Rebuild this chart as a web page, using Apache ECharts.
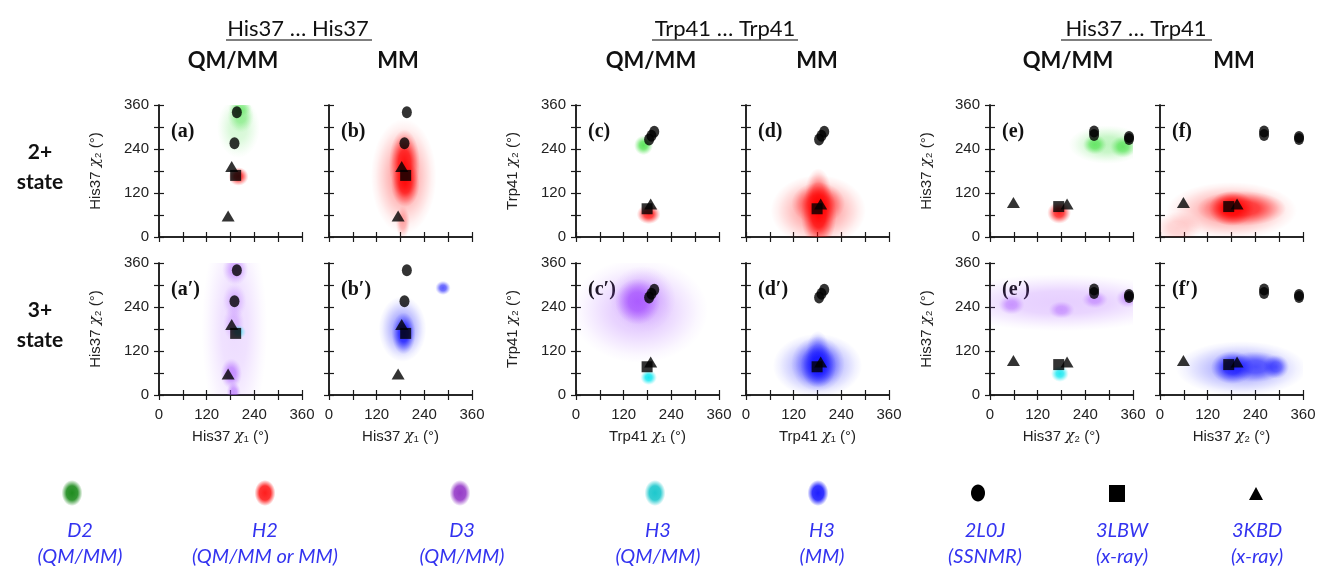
<!DOCTYPE html>
<html>
<head>
<meta charset="utf-8">
<script src="https://cdn.jsdelivr.net/npm/echarts@6/dist/echarts.min.js"></script>
<style>
  html, body { margin: 0; padding: 0; background: #fff; }
  #chart { width: 1323px; height: 569px; }
</style>
</head>
<body>
<div id="chart"></div>
<script>
// tick labels shown on every panel (ticks every 60 deg)
const tickLabels = [0, 120, 240, 360];

// experimental structures, [chi_x, chi_y] in degrees
const hisHisCircles = [[196, 340], [190, 256]];
const hisHisSquares = [[193, 168]];
const hisHisTriangles = [[183, 192], [174, 57]];

const trpTrpCircles = [[184, 266], [190, 276], [197, 287]];
const trpTrpSquares = [[179, 77]];
const trpTrpTriangles = [[188, 90]];

const hisTrpCircles = [[262, 288], [262, 278], [350, 273], [350, 267]];
const hisTrpSquares = [[173, 83]];
const hisTrpTriangles = [[59, 94], [194, 90]];

// simulated densities: [chi_x, chi_y, spread_x, spread_y, density]
// 2+ state
const cloudA_D2 = [[200, 298, 36, 55, 0.2], [206, 330, 22, 30, 0.4], [204, 352, 20, 16, 0.35]];
const cloudA_H2 = [[200, 165, 17, 17, 0.8]];
const cloudB_H2 = [[188, 165, 55, 105, 0.35], [190, 200, 26, 62, 0.9], [192, 145, 24, 42, 0.85], [186, 40, 12, 30, 0.3]];
const cloudC_D2 = [[170, 250, 16, 18, 0.75]];
const cloudC_H2 = [[183, 62, 20, 18, 0.85]];
const cloudD_H2 = [[182, 72, 80, 65, 0.38], [183, 62, 30, 60, 0.95], [182, 92, 45, 38, 0.7], [182, 120, 22, 45, 0.45]];
const cloudE_D2 = [[295, 252, 65, 35, 0.3], [264, 252, 20, 18, 0.6], [335, 246, 22, 20, 0.6]];
const cloudE_H2 = [[174, 66, 20, 20, 0.85]];
const cloudF_H2 = [[180, 72, 110, 52, 0.35], [205, 78, 75, 32, 0.75], [180, 78, 38, 32, 0.9], [45, 25, 40, 30, 0.18]];
// 3+ state
const cloudA3_D3 = [[190, 180, 55, 200, 0.2], [192, 342, 22, 28, 0.45], [190, 256, 20, 32, 0.3], [188, 195, 18, 32, 0.3], [182, 58, 18, 28, 0.6], [188, 8, 12, 18, 0.55]];
const cloudA3_H3 = [[200, 172, 13, 13, 0.5]];
const cloudB3_H3mm = [[185, 180, 40, 60, 0.4], [188, 168, 20, 38, 0.9], [287, 292, 13, 13, 0.7]];
const cloudC3_D3 = [[160, 230, 115, 95, 0.3], [155, 255, 38, 42, 0.85], [168, 262, 55, 60, 0.35]];
const cloudC3_H3 = [[183, 48, 14, 14, 0.9]];
const cloudD3_H3mm = [[180, 80, 75, 58, 0.38], [182, 80, 30, 40, 0.95], [181, 85, 45, 50, 0.6], [181, 115, 20, 40, 0.4]];
const cloudE3_D3 = [[180, 252, 200, 52, 0.28], [54, 246, 22, 18, 0.5], [180, 232, 22, 16, 0.45], [264, 260, 22, 16, 0.45], [347, 264, 20, 18, 0.45]];
const cloudE3_H3 = [[176, 58, 15, 15, 0.85]];
const cloudF3_H3mm = [[205, 72, 110, 50, 0.35], [182, 75, 36, 30, 0.9], [240, 77, 50, 28, 0.65], [292, 77, 22, 22, 0.6]];

const colors = {
  D2: [40, 220, 40],
  H2: [255, 0, 0],
  D3: [165, 80, 255],
  H3: [0, 230, 240],
  H3mm: [20, 20, 255]
};

const gridLefts = [159, 329, 576, 746, 990, 1160];
const gridTops = [105, 263];
const gridW = 143, gridH = 132;

const xNames = ['His37 {i|χ}₁ (°)', 'His37 {i|χ}₁ (°)', 'Trp41 {i|χ}₁ (°)', 'Trp41 {i|χ}₁ (°)', 'His37 {i|χ}₂ (°)', 'His37 {i|χ}₂ (°)'];
const yNames = ['His37 {i|χ}₂ (°)', '', 'Trp41 {i|χ}₂ (°)', '', 'His37 {i|χ}₂ (°)', ''];
const letters = ['a', 'b', 'c', 'd', 'e', 'f'];

const panels = [
  { clouds: [['D2', cloudA_D2], ['H2', cloudA_H2]], m: 0 },
  { clouds: [['H2', cloudB_H2]], m: 0 },
  { clouds: [['D2', cloudC_D2], ['H2', cloudC_H2]], m: 1 },
  { clouds: [['H2', cloudD_H2]], m: 1 },
  { clouds: [['D2', cloudE_D2], ['H2', cloudE_H2]], m: 2 },
  { clouds: [['H2', cloudF_H2]], m: 2 },
  { clouds: [['D3', cloudA3_D3], ['H3', cloudA3_H3]], m: 0 },
  { clouds: [['H3mm', cloudB3_H3mm]], m: 0 },
  { clouds: [['D3', cloudC3_D3], ['H3', cloudC3_H3]], m: 1 },
  { clouds: [['H3mm', cloudD3_H3mm]], m: 1 },
  { clouds: [['D3', cloudE3_D3], ['H3', cloudE3_H3]], m: 2 },
  { clouds: [['H3mm', cloudF3_H3mm]], m: 2 }
];
const markerSets = [
  [hisHisCircles, hisHisSquares, hisHisTriangles],
  [trpTrpCircles, trpTrpSquares, trpTrpTriangles],
  [hisTrpCircles, hisTrpSquares, hisTrpTriangles]
];

// soft gaussian-like blob, the spread is the half width where it is still clearly visible
function blobFill(rgb, a) {
  const c = (k) => 'rgba(' + rgb.join(',') + ',' + Math.min(1, a * k).toFixed(3) + ')';
  return new echarts.graphic.RadialGradient(0.5, 0.5, 0.5, [
    { offset: 0, color: c(1) },
    { offset: 0.4, color: c(0.85) },
    { offset: 0.65, color: c(0.45) },
    { offset: 0.85, color: c(0.15) },
    { offset: 1, color: c(0) }
  ]);
}

const axisColor = '#1a1a1a';
const labelFont = { color: '#222', fontFamily: 'Liberation Sans', fontSize: 15 };
const nameRich = { i: { fontStyle: 'italic', fontFamily: 'DejaVu Serif', fontSize: 15, color: '#222' } };

const grid = [], xAxis = [], yAxis = [], series = [];

panels.forEach((p, g) => {
  const row = Math.floor(g / 6), col = g % 6;
  grid.push({ left: gridLefts[col], top: gridTops[row], width: gridW, height: gridH });
  const base = {
    type: 'value', gridIndex: g, min: 0, max: 360, interval: 60,
    axisLine: { lineStyle: { color: axisColor, width: 1.5 } },
    axisTick: { inside: true, length: 5, lineStyle: { color: axisColor, width: 1.2 } },
    splitLine: { show: false }
  };
  xAxis.push(Object.assign({}, base, {
    position: 'bottom',
    axisLabel: Object.assign({ show: row === 1, margin: 12, formatter: (v) => tickLabels.includes(v) ? v : '' }, labelFont),
    name: row === 1 ? xNames[col] : '',
    nameLocation: 'middle', nameGap: 34,
    nameTextStyle: Object.assign({ rich: nameRich }, labelFont)
  }));
  xAxis.push(Object.assign({}, base, { position: 'top', axisLabel: { show: false } }));
  yAxis.push(Object.assign({}, base, {
    position: 'left',
    axisLabel: Object.assign({ show: col % 2 === 0, margin: 10, formatter: (v) => tickLabels.includes(v) ? v : '' }, labelFont),
    name: yNames[col],
    nameLocation: 'middle', nameGap: 56, nameRotate: 90,
    nameTextStyle: Object.assign({ rich: nameRich }, labelFont)
  }));
  yAxis.push(Object.assign({}, base, { position: 'right', axisLabel: { show: false } }));

  p.clouds.forEach(([key, data]) => {
    series.push({
      type: 'custom', xAxisIndex: 2 * g, yAxisIndex: 2 * g, clip: true, silent: true, z: 1,
      data: data,
      renderItem: (params, api) => {
        const c = api.coord([api.value(0), api.value(1)]);
        const s = api.size([api.value(2), api.value(3)]);
        const r = Math.max(s[1], 1) * 1.5;
        return {
          type: 'circle', x: c[0], y: c[1], scaleX: s[0] / Math.max(s[1], 1),
          shape: { cx: 0, cy: 0, r: r },
          style: { fill: blobFill(colors[key], api.value(4)) }
        };
      }
    });
  });

  const [circ, sq, tri] = markerSets[p.m];
  const mk = (data, symbol, size) => ({
    type: 'scatter', xAxisIndex: 2 * g, yAxisIndex: 2 * g, silent: true, z: 5,
    symbol: symbol, symbolSize: size, itemStyle: { color: '#000' }, data: data
  });
  series.push(mk(circ, 'circle', [10, 12]));
  series.push(mk(sq, 'rect', [11, 11]));
  series.push(mk(tri, 'triangle', [13, 11]));
});

// texts and legend
const graphic = [];
const txt = (x, y, text, font, fill, align) => ({
  type: 'text', x: x, y: y, silent: true,
  style: { text: text, font: font, fill: fill || '#111', align: align || 'center', verticalAlign: 'middle', textAlign: align || 'center', textVerticalAlign: 'middle' }
});

[[298, 'His37 … His37', 226, 372], [725, 'Trp41 … Trp41', 652, 798], [1136, 'His37 … Trp41', 1061, 1212]].forEach(([x, t, x1, x2]) => {
  graphic.push(txt(x, 29, t, '22px Lato', '#111'));
  graphic.push({ type: 'line', silent: true, shape: { x1: x1, y1: 40, x2: x2, y2: 40 }, style: { stroke: '#555', lineWidth: 1.5 } });
});
[[233, 'QM/MM'], [398, 'MM'], [651, 'QM/MM'], [817, 'MM'], [1068, 'QM/MM'], [1234, 'MM']].forEach(([x, t]) => {
  graphic.push(txt(x, 61, t, 'bold 22px Lato', '#111'));
});
[[152, '2+'], [182, 'state'], [310, '3+'], [340, 'state']].forEach(([y, t]) => {
  graphic.push(txt(40, y, t, 'bold 21px Lato', '#111'));
});
letters.forEach((l, col) => {
  graphic.push(txt(gridLefts[col] + 12, gridTops[0] + 27, '(' + l + ')', 'bold 20px "Liberation Serif"', '#111', 'left'));
  graphic.push(txt(gridLefts[col] + 12, gridTops[1] + 27, '(' + l + '′)', 'bold 20px "Liberation Serif"', '#111', 'left'));
});

const legendBlobs = [[72, [30, 140, 30]], [265, [255, 30, 30]], [460, [150, 60, 200]], [655, [30, 200, 205]], [818, [30, 30, 255]]];
legendBlobs.forEach(([x, rgb]) => {
  graphic.push({ type: 'circle', silent: true, x: x, y: 493, scaleX: 0.8, shape: { cx: 0, cy: 0, r: 13 },
    style: { fill: new echarts.graphic.RadialGradient(0.5, 0.5, 0.5, [
      { offset: 0, color: 'rgba(' + rgb.join(',') + ',1)' },
      { offset: 0.55, color: 'rgba(' + rgb.join(',') + ',0.9)' },
      { offset: 1, color: 'rgba(' + rgb.join(',') + ',0)' }]) } });
});
graphic.push({ type: 'ellipse', silent: true, shape: { cx: 978, cy: 493, rx: 7, ry: 8.5 }, style: { fill: '#000' } });
graphic.push({ type: 'rect', silent: true, shape: { x: 1109, y: 485, width: 16, height: 17 }, style: { fill: '#000' } });
graphic.push({ type: 'polygon', silent: true, shape: { points: [[1249, 500], [1263, 500], [1256, 487]] }, style: { fill: '#000' } });

[[80, 'D2', '(QM/MM)'], [265, 'H2', '(QM/MM or MM)'], [462, 'D3', '(QM/MM)'], [658, 'H3', '(QM/MM)'],
 [822, 'H3', '(MM)'], [985, '2L0J', '(SSNMR)'], [1122, '3LBW', '(x-ray)'], [1257, '3KBD', '(x-ray)']].forEach(([x, a, b]) => {
  graphic.push(txt(x, 531, a, 'italic 20px Lato', '#3333f0'));
  graphic.push(txt(x, 557, b, 'italic 20px Lato', '#3333f0'));
});

const chart = echarts.init(document.getElementById('chart'), null, { renderer: 'canvas' });
chart.setOption({
  animation: false,
  backgroundColor: '#fff',
  grid: grid,
  xAxis: xAxis,
  yAxis: yAxis,
  series: series,
  graphic: graphic
});
</script>
</body>
</html>
